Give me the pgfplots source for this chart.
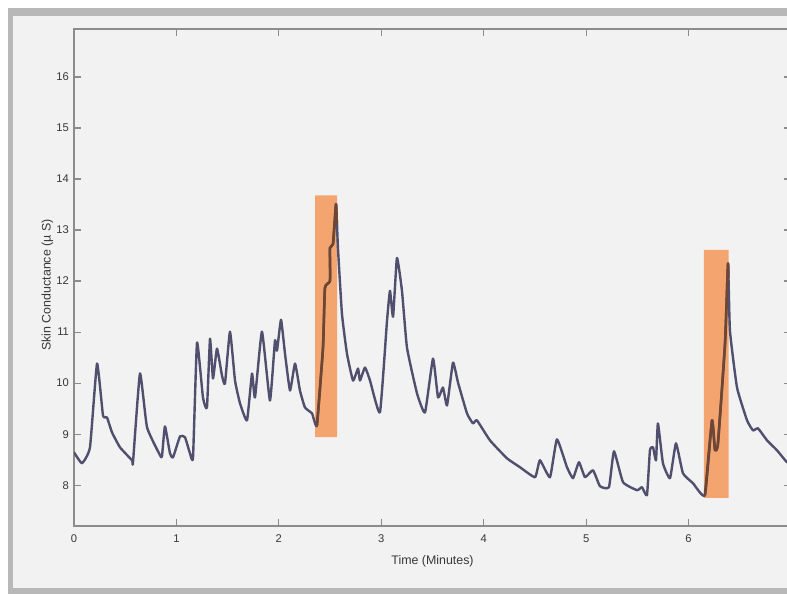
\documentclass[border=0pt]{standalone}
\usepackage{pgfplots}
\pgfplotsset{compat=1.18}
\usepackage{fontspec}
\setmainfont{Liberation Sans}
\definecolor{figbg}{HTML}{F2F2F2}
\definecolor{framegray}{HTML}{B8B8B8}
\definecolor{trace}{HTML}{50506E}
\definecolor{rectorange}{HTML}{F4A46E}
\definecolor{tracebrown}{HTML}{6E4632}
\definecolor{axgray}{HTML}{8C8C8C}
\definecolor{txt}{HTML}{383838}
\begin{document}
\begin{tikzpicture}[x=0.5pt,y=0.5pt]
\useasboundingbox (0,0) rectangle (787,594);
\begin{scope}
\clip (0,0) rectangle (787,594);
\fill[white] (0,0) rectangle (787,594);
\fill[framegray] (8,-10) rectangle (800,586);
\fill[figbg] (13,6) rectangle (800,578);
\begin{axis}[
  at={(37pt,34pt)}, anchor=south west,
  scale only axis, width=358.5pt, height=248.5pt,
  xmin=0, xmax=7, ymin=7.2, ymax=16.94,
  xtick={0,1,2,3,4,5,6}, ytick={8,9,10,11,12,13,14,15,16},
  extra x ticks={7}, extra x tick labels={},
  tick align=inside, major tick length=3.5pt,
  axis line style={axgray, line width=0.7pt},
  every tick/.style={axgray, line width=0.6pt},
  tick label style={font=\fontsize{5.6}{6}\selectfont, text=txt},
  /pgf/number format/assume math mode=true,
  xticklabel style={yshift=-1pt},
  yticklabel style={xshift=1pt},
  xlabel={Time (Minutes)}, ylabel={Skin Conductance (µ S)},
  every axis x label/.style={at={(axis description cs:0.5,0)}, anchor=north, yshift=-11pt, font=\fontsize{6.2}{7}\selectfont, text=txt},
  every axis y label/.style={at={(axis description cs:-0.037,0.485)}, rotate=90, anchor=center, font=\fontsize{6.2}{7}\selectfont, text=txt},
  clip=true,
]
\addplot[fill=rectorange, draw=none, forget plot] coordinates {(2.353,8.94) (2.568,8.94) (2.568,13.68) (2.353,13.68) (2.353,8.94)};
\addplot[fill=rectorange, draw=none, forget plot] coordinates {(6.150,7.75) (6.390,7.75) (6.390,12.61) (6.150,12.61) (6.150,7.75)};
\addplot[trace, line width=1.2pt, line join=round, mark=none, smooth, tension=0.25] coordinates {
(0,8.645) (0.078,8.430) (0.156,8.742) (0.225,10.383) (0.283,9.367) (0.322,9.328)
(0.371,9.035) (0.449,8.742) (0.566,8.488) (0.576,8.449) (0.644,10.188) (0.713,9.133)
(0.840,8.586) (0.859,8.566) (0.888,9.152) (0.937,8.625) (0.967,8.547) (1.035,8.957)
(1.084,8.938) (1.132,8.625) (1.162,8.547) (1.201,10.793) (1.259,9.719) (1.298,9.523)
(1.328,10.871) (1.357,10.090) (1.396,10.676) (1.445,10.148) (1.474,9.992) (1.523,11.008)
(1.572,10.051) (1.621,9.602) (1.689,9.270) (1.738,10.188) (1.767,9.719) (1.835,11.008)
(1.913,9.660) (1.962,10.832) (1.982,10.637) (2.021,11.242) (2.060,10.578) (2.109,9.855)
(2.158,10.383) (2.206,9.855) (2.255,9.523) (2.324,9.406) (2.372,9.172) (2.431,10.695)
(2.450,11.867) (2.499,12.004) (2.499,12.648) (2.529,12.727) (2.558,13.508) (2.577,12.648)
(2.616,11.359) (2.665,10.578) (2.724,10.051) (2.773,10.285) (2.792,10.051) (2.841,10.305)
(2.890,10.051) (2.987,9.426) (3.056,11.223) (3.085,11.809) (3.115,11.300) (3.153,12.453)
(3.202,11.809) (3.251,10.695) (3.349,9.797) (3.427,9.426) (3.505,10.480) (3.554,9.719)
(3.602,9.914) (3.642,9.563) (3.700,10.402) (3.749,10.012) (3.837,9.406) (3.895,9.211)
(3.934,9.270) (4.061,8.879) (4.227,8.527) (4.354,8.352) (4.501,8.156) (4.549,8.488)
(4.647,8.156) (4.715,8.898) (4.813,8.352) (4.872,8.137) (4.930,8.449) (4.989,8.156)
(5.067,8.293) (5.135,7.980) (5.223,7.961) (5.272,8.664) (5.360,8.059) (5.497,7.902)
(5.545,7.961) (5.594,7.805) (5.623,8.684) (5.653,8.742) (5.682,8.488) (5.701,9.211)
(5.750,8.430) (5.819,8.137) (5.877,8.820) (5.945,8.234) (6.043,8.039) (6.160,7.805)
(6.229,9.270) (6.258,8.684) (6.287,8.820) (6.356,10.773) (6.385,12.336) (6.404,11.027)
(6.473,9.914) (6.571,9.270) (6.629,9.074) (6.678,9.113) (6.766,8.879) (6.863,8.684)
(6.961,8.449) (7.000,8.450)
};
\addplot[tracebrown, line width=1.3pt, line join=round, mark=none, smooth, tension=0.25] coordinates {
(2.372,9.172) (2.431,10.695) (2.450,11.867) (2.499,12.004) (2.499,12.648) (2.529,12.727)
(2.558,13.508) (2.566,13.10)
};
\addplot[tracebrown, line width=1.3pt, line join=round, mark=none, smooth, tension=0.25] coordinates {
(6.160,7.805) (6.229,9.270) (6.258,8.684) (6.287,8.820) (6.356,10.773) (6.385,12.336) (6.389,12.05)
};
\end{axis}
\end{scope}
\end{tikzpicture}
\end{document}
